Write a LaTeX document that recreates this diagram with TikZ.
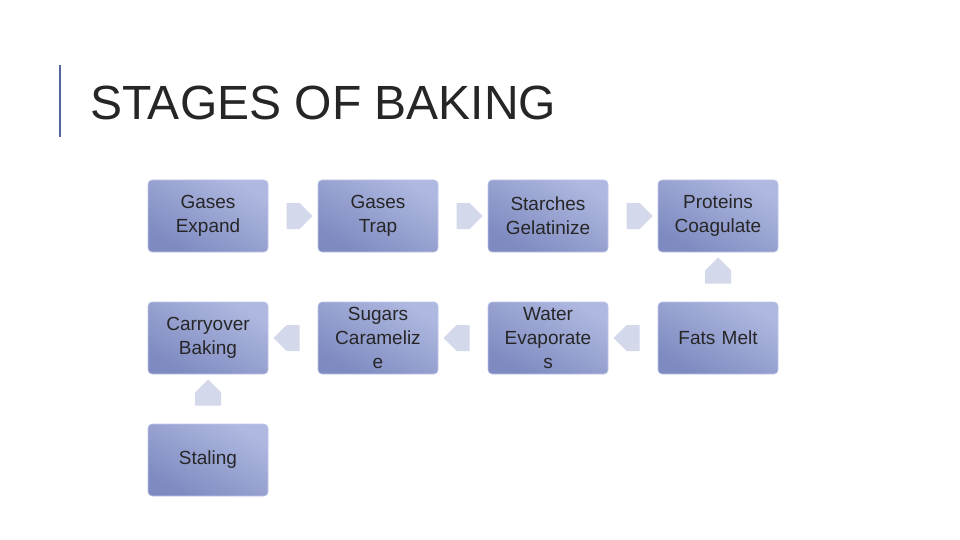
\documentclass[tikz,border=0pt]{standalone}
\usepackage{fontspec}
\setmainfont{Liberation Sans}
\usetikzlibrary{shapes.arrows,calc}
\definecolor{boxA}{HTML}{AEB8E0}
\definecolor{boxB}{HTML}{7E8AC0}
\definecolor{arr}{HTML}{D3D8EB}
\definecolor{bar}{HTML}{5468A0}
\tikzset{
 stage/.style={rounded corners=4pt,minimum width=120pt,minimum height=72pt,text width=112pt,align=center,
   font=\fontsize{19}{24}\selectfont,text=black!85,shading=axis,top color=boxA,bottom color=boxB,shading angle=-30,
   draw=boxA!80!white,line width=0.6pt},
 barrow/.style={single arrow,fill=arr,draw=none,minimum height=26pt,minimum width=26pt,single arrow head extend=0pt,inner sep=0pt}
}
\begin{document}
\begin{tikzpicture}[x=1pt,y=-1pt]
\useasboundingbox[fill=white] (0,0) rectangle (960,540);
\draw[bar,line width=2.5pt] (60,65) -- (60,137);
\node[anchor=base west,font=\fontsize{48}{54}\selectfont,text=black!85,inner sep=0pt] (title) at (90,120) {STAGES OF BAKING};
\node[stage] (a) at (208,216) {Gases\\Expand};
\node[stage] (b) at (378,216) {Gases\\Trap};
\node[stage] (c) at (548,216) {Starches\\Gelatinize};
\node[stage] (d) at (718,216) {Proteins\\Coagulate};
\node[stage] (e) at (718,338) {Fats Melt};
\node[stage] (f) at (548,338) {Water\\Evaporate\\s};
\node[stage] (g) at (378,338) {Sugars\\Carameliz\\e};
\node[stage] (h) at (208,338) {Carryover\\Baking};
\node[stage] (i) at (208,460) {Staling};
\node[barrow] (ab) at ($(a)!0.5!(b)$) {};
\node[barrow] (bc) at ($(b)!0.5!(c)$) {};
\node[barrow] (cd) at ($(c)!0.5!(d)$) {};
\node[barrow,shape border rotate=90] (de) at ($(d)!0.5!(e)$) {};
\node[barrow,shape border rotate=180] (ef) at ($(e)!0.5!(f)$) {};
\node[barrow,shape border rotate=180] (fg) at ($(f)!0.5!(g)$) {};
\node[barrow,shape border rotate=180] (gh) at ($(g)!0.5!(h)$) {};
\node[barrow,shape border rotate=90] (hi) at ($(h)!0.5!(i)$) {};
\end{tikzpicture}
\end{document}
